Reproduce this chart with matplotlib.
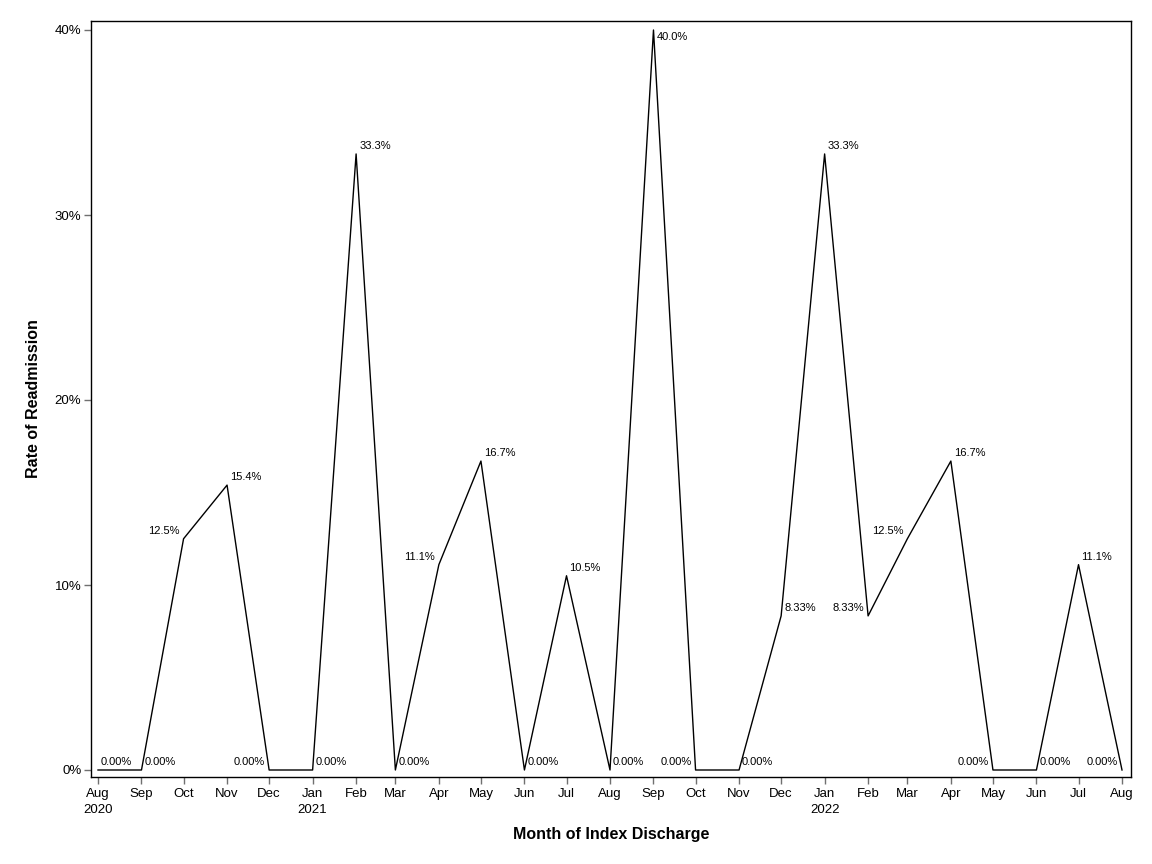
import numpy as np
import pandas as pd
import matplotlib
matplotlib.use("Agg")
import matplotlib.pyplot as plt
import matplotlib.dates as mdates

plt.rcParams['font.family'] = ['Liberation Sans', 'DejaVu Sans']

# monthly readmission rate (%) by month of index discharge
months = pd.date_range("2020-08-01", "2022-08-01", freq="MS")
rates = [0.0, 0.0, 12.5, 15.4, 0.0, 0.0, 33.3, 0.0, 11.1, 16.7, 0.0, 10.5, 0.0,
         40.0, 0.0, 0.0, 8.33, 33.3, 8.33, 12.5, 16.7, 0.0, 0.0, 11.1, 0.0]
# which side of the point the data label sits on
label_side = ['r', 'r', 'l', 'r', 'l', 'r', 'r', 'r', 'l', 'r', 'r', 'r', 'r',
              'r', 'l', 'r', 'r', 'r', 'l', 'l', 'r', 'l', 'r', 'r', 'l']
tick_labels = [m.strftime("%b") + ("\n" + m.strftime("%Y") if m.month == 1 or i == 0 else "")
               for i, m in enumerate(months)]
y_ticks = [0, 10, 20, 30, 40]


def fmt(v):
    if v == 0:
        return "0.00%"
    if v < 10:
        return f"{v:.2f}%"
    return f"{v:.1f}%"


fig = plt.figure(figsize=(11.52, 8.64), dpi=100)
ax = fig.add_axes([91 / 1152, 1 - 777 / 864, (1131 - 91) / 1152, (777 - 21) / 864])

x = mdates.date2num(months)
ax.plot(x, rates, color='black', linewidth=1.0)

for xi, v, side in zip(x, rates, label_side):
    if v >= 39:
        ax.annotate(fmt(v), (xi, v), xytext=(3, -7), textcoords='offset pixels',
                    ha='left', va='center', fontsize=8)
    elif side == 'r':
        ax.annotate(fmt(v), (xi, v), xytext=(3, 3), textcoords='offset pixels',
                    ha='left', va='bottom', fontsize=8)
    else:
        ax.annotate(fmt(v), (xi, v), xytext=(-4, 3), textcoords='offset pixels',
                    ha='right', va='bottom', fontsize=8)

px_day = 1024 / (x[-1] - x[0])
ax.set_xlim(x[0] - 7 / px_day, x[-1] + 9 / px_day)
ax.set_ylim(-7 / 18.5, 40 + 9 / 18.5)

ax.set_xticks(x)
ax.set_xticklabels(tick_labels, fontsize=9.5, linespacing=1.45)
ax.set_yticks(y_ticks)
ax.set_yticklabels([f"{t}%" for t in y_ticks], fontsize=9.5)
ax.tick_params(axis='both', direction='out', length=5, width=1, color='#707070', pad=2)
ax.tick_params(axis='x', pad=3)

for s in ax.spines.values():
    s.set_linewidth(1.0)

ax.set_xlabel("Month of Index Discharge", fontsize=11.5, fontweight='bold', labelpad=8)
ax.set_ylabel("Rate of Readmission", fontsize=11.5, fontweight='bold', labelpad=10)

fig.savefig("out.png", dpi=100)
